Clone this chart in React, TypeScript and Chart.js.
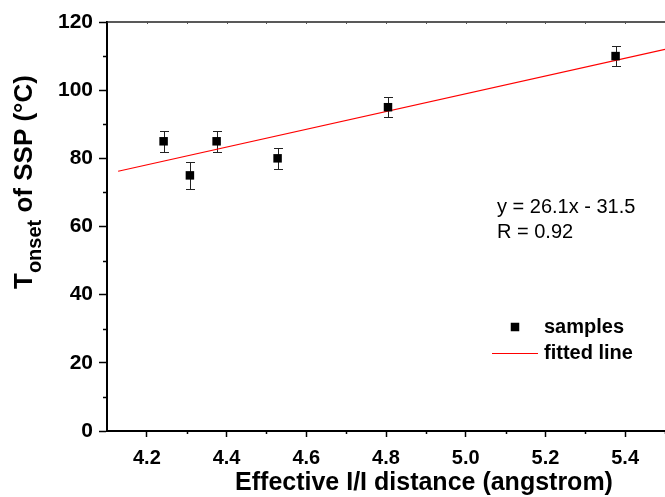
import React, { useEffect, useRef } from 'react';
import { Chart, registerables } from 'chart.js';

Chart.register(...registerables);

const FONT = "'Liberation Sans', Arial, Helvetica, sans-serif";

// Data
const sampleX = [4.242, 4.308, 4.375, 4.528, 4.805, 5.376];
const sampleY = [85, 75, 85, 80, 95, 110];
const sampleErr = [3, 4, 3, 3, 3, 3];
const fitX = [4.128, 5.5];
const fitY = [76.2, 112.0];

const xRange = [4.1, 5.5];
const yRange = [0, 120];
const xMajorTicks = [4.2, 4.4, 4.6, 4.8, 5.0, 5.2, 5.4];
const xMinorTicks = [4.3, 4.5, 4.7, 4.9, 5.1, 5.3, 5.5];
const yMajorTicks = [0, 20, 40, 60, 80, 100, 120];
const yMinorTicks = [10, 30, 50, 70, 90, 110];

const legendLabels = ['samples', 'fitted line'];
const fitText = ['y = 26.1x - 31.5', 'R = 0.92'];
const xTitle = 'Effective I/I distance (angstrom)';
const yTitleMain = 'T';
const yTitleSub = 'onset';
const yTitleRest = ' of SSP (°C)';

const decorPlugin = {
  id: 'decor',
  beforeDatasetsDraw(chart: any) {
    const ctx = chart.ctx;
    const xs = chart.scales.x;
    const ys = chart.scales.y;
    ctx.save();
    ctx.strokeStyle = '#222';
    ctx.lineWidth = 1;
    sampleX.forEach((x, i) => {
      const px = Math.round(xs.getPixelForValue(x)) + 0.5;
      const top = Math.round(ys.getPixelForValue(sampleY[i] + sampleErr[i])) + 0.5;
      const bot = Math.round(ys.getPixelForValue(sampleY[i] - sampleErr[i])) + 0.5;
      ctx.beginPath();
      ctx.moveTo(px, top);
      ctx.lineTo(px, bot);
      ctx.moveTo(px - 4.5, top);
      ctx.lineTo(px + 4.5, top);
      ctx.moveTo(px - 4.5, bot);
      ctx.lineTo(px + 4.5, bot);
      ctx.stroke();
    });
    ctx.restore();
  },
  afterDraw(chart: any) {
    const ctx = chart.ctx;
    const xs = chart.scales.x;
    const ys = chart.scales.y;
    const ca = chart.chartArea;
    ctx.save();

    // minor ticks
    ctx.strokeStyle = '#000';
    ctx.lineWidth = 1.5;
    ctx.beginPath();
    yMinorTicks.forEach((v) => {
      const py = Math.round(ys.getPixelForValue(v)) + 0.5;
      ctx.moveTo(ca.left - 4, py);
      ctx.lineTo(ca.left, py);
    });
    xMinorTicks.forEach((v) => {
      const px = Math.round(xs.getPixelForValue(v)) + 0.5;
      ctx.moveTo(px, ca.bottom);
      ctx.lineTo(px, ca.bottom + 3);
    });
    ctx.stroke();

    // top frame
    ctx.strokeStyle = '#222';
    ctx.lineWidth = 1.5;
    ctx.beginPath();
    ctx.moveTo(ca.left, ca.top);
    ctx.lineTo(ca.right, ca.top);
    ctx.stroke();
    ctx.strokeStyle = '#555';
    ctx.lineWidth = 1;
    ctx.beginPath();
    [...xMajorTicks, ...xMinorTicks].forEach((v) => {
      const px = Math.round(xs.getPixelForValue(v)) + 0.5;
      ctx.moveTo(px, ca.top - 1);
      ctx.lineTo(px, ca.top + 2);
    });
    ctx.stroke();

    // legend
    const ds0 = chart.data.datasets[0];
    const ds1 = chart.data.datasets[1];
    ctx.fillStyle = ds0.backgroundColor;
    ctx.fillRect(515 - 4.25, 327 - 4.25, 8.5, 8.5);
    ctx.strokeStyle = ds1.borderColor;
    ctx.lineWidth = 1;
    ctx.beginPath();
    ctx.moveTo(492, 353.5);
    ctx.lineTo(538, 353.5);
    ctx.stroke();
    ctx.fillStyle = '#000';
    ctx.font = `bold 20px ${FONT}`;
    ctx.textAlign = 'left';
    ctx.textBaseline = 'middle';
    ctx.fillText(legendLabels[0], 544, 327);
    ctx.fillText(legendLabels[1], 544, 353);

    // fit equation
    ctx.font = `20px ${FONT}`;
    ctx.fillText(fitText[0], 497, 207);
    ctx.fillText(fitText[1], 497, 232);

    // x title
    ctx.font = `bold 25px ${FONT}`;
    ctx.textAlign = 'center';
    ctx.textBaseline = 'alphabetic';
    ctx.fillText(xTitle, 424, 490);

    // y title with subscript
    ctx.translate(32, 289);
    ctx.rotate(-Math.PI / 2);
    ctx.textAlign = 'left';
    ctx.font = `bold 26px ${FONT}`;
    ctx.fillText(yTitleMain, 0, 0);
    const w1 = ctx.measureText(yTitleMain).width;
    ctx.font = `bold 20px ${FONT}`;
    ctx.fillText(yTitleSub, w1, 9);
    const w2 = ctx.measureText(yTitleSub).width;
    ctx.font = `bold 26px ${FONT}`;
    ctx.fillText(yTitleRest, w1 + w2, 0);

    ctx.restore();
  },
};

export default function App() {
  const canvasRef = useRef<HTMLCanvasElement | null>(null);

  useEffect(() => {
    document.body.style.margin = '0';
    const canvas = canvasRef.current;
    if (!canvas) return;
    const chart = new Chart(canvas, {
      type: 'scatter',
      data: {
        datasets: [
          {
            type: 'scatter',
            label: legendLabels[0],
            data: sampleX.map((x, i) => ({ x, y: sampleY[i] })),
            pointStyle: 'rect',
            pointRadius: 6,
            pointHoverRadius: 6,
            backgroundColor: '#000',
            borderColor: '#000',
            borderWidth: 0,
          },
          {
            type: 'line',
            label: legendLabels[1],
            data: fitX.map((x, i) => ({ x, y: fitY[i] })),
            borderColor: '#ff0000',
            backgroundColor: '#ff0000',
            borderWidth: 1.2,
            pointRadius: 0,
            fill: false,
            tension: 0,
          },
        ],
      } as any,
      options: {
        animation: false,
        responsive: false,
        maintainAspectRatio: false,
        layout: { autoPadding: false, padding: { top: 22, right: 0, left: 0, bottom: 0 } },
        plugins: { legend: { display: false }, tooltip: { enabled: false } },
        scales: {
          x: {
            type: 'linear',
            min: xRange[0],
            max: xRange[1],
            afterBuildTicks: (s: any) => {
              s.ticks = xMajorTicks.map((v) => ({ value: v }));
            },
            afterFit: (s: any) => {
              s.height = 66;
              s.paddingLeft = 0;
              s.paddingRight = 0;
            },
            grid: {
              drawOnChartArea: false,
              drawTicks: true,
              tickLength: 6,
              tickWidth: 1.5,
              tickColor: '#000',
            },
            border: { color: '#000', width: 2 },
            ticks: {
              font: { family: FONT, size: 20, weight: 'bold' },
              color: '#000',
              padding: 9,
              maxRotation: 0,
              autoSkip: false,
              callback: (v: any) => Number(v).toFixed(1),
            },
          },
          y: {
            type: 'linear',
            min: yRange[0],
            max: yRange[1],
            afterBuildTicks: (s: any) => {
              s.ticks = yMajorTicks.map((v) => ({ value: v }));
            },
            afterFit: (s: any) => {
              s.width = 107;
              s.paddingTop = 0;
              s.paddingBottom = 0;
            },
            grid: {
              drawOnChartArea: false,
              drawTicks: true,
              tickLength: 8,
              tickWidth: 1.5,
              tickColor: '#000',
            },
            border: { color: '#000', width: 2 },
            ticks: {
              font: { family: FONT, size: 21, weight: 'bold' },
              color: '#000',
              padding: 6,
              autoSkip: false,
              callback: (v: any) => String(v),
            },
          },
        },
      } as any,
      plugins: [decorPlugin],
    });
    return () => chart.destroy();
  }, []);

  return (
    <canvas
      ref={canvasRef}
      width={665}
      height={497}
      style={{ display: 'block', width: 665, height: 497 }}
    />
  );
}
